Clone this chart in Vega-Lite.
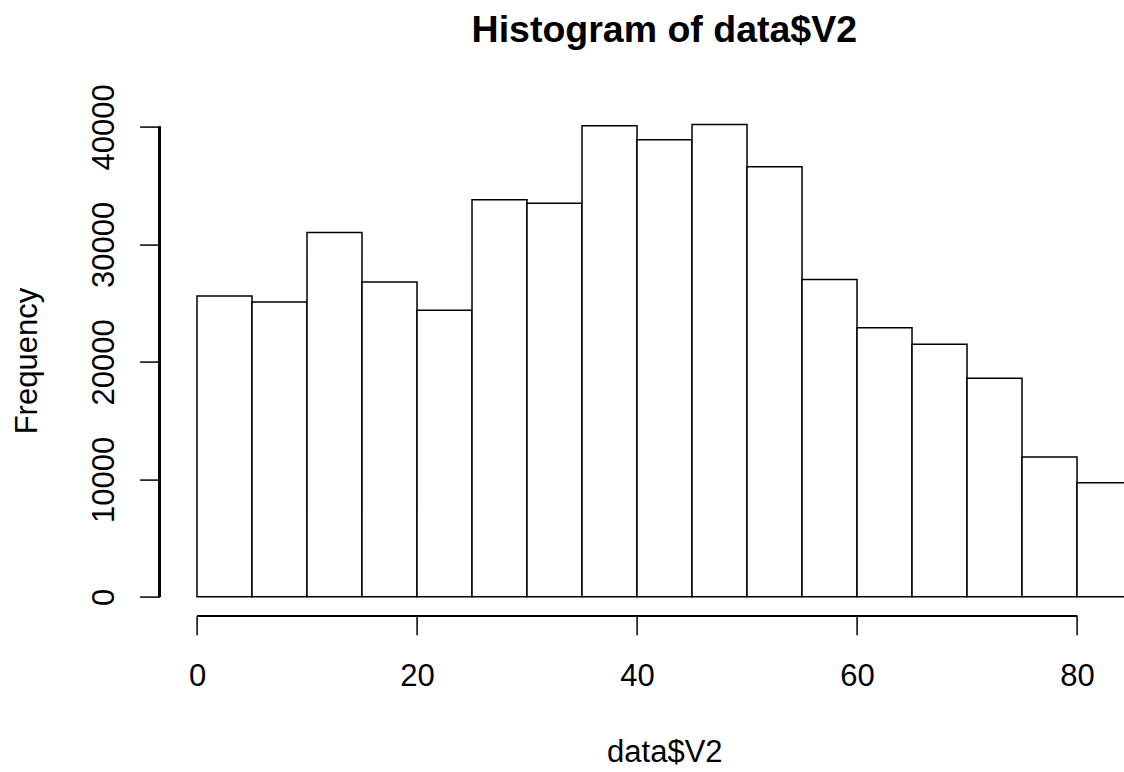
{
  "$schema": "https://vega.github.io/schema/vega-lite/v6.json",
  "width": 964.4,
  "height": 510.1,
  "autosize": {"type": "none"},
  "padding": {"left": 159.6, "top": 105.6, "right": 0, "bottom": 156.3},
  "background": "white",
  "config": {
    "view": {"stroke": null},
    "font": "Liberation Sans"
  },
  "title": {
    "text": "Histogram of data$V2",
    "font": "Liberation Sans",
    "fontSize": 37.5,
    "fontWeight": "bold",
    "color": "black",
    "anchor": "middle",
    "frame": "group",
    "dx": 22.5,
    "baseline": "alphabetic",
    "offset": 4
  },
  "data": {
    "values": [
      {"bin_start": 0, "bin_end": 5, "count": 25600},
      {"bin_start": 5, "bin_end": 10, "count": 25100},
      {"bin_start": 10, "bin_end": 15, "count": 31000},
      {"bin_start": 15, "bin_end": 20, "count": 26800},
      {"bin_start": 20, "bin_end": 25, "count": 24400},
      {"bin_start": 25, "bin_end": 30, "count": 33800},
      {"bin_start": 30, "bin_end": 35, "count": 33500},
      {"bin_start": 35, "bin_end": 40, "count": 40100},
      {"bin_start": 40, "bin_end": 45, "count": 38900},
      {"bin_start": 45, "bin_end": 50, "count": 40200},
      {"bin_start": 50, "bin_end": 55, "count": 36600},
      {"bin_start": 55, "bin_end": 60, "count": 27000},
      {"bin_start": 60, "bin_end": 65, "count": 22900},
      {"bin_start": 65, "bin_end": 70, "count": 21500},
      {"bin_start": 70, "bin_end": 75, "count": 18600},
      {"bin_start": 75, "bin_end": 80, "count": 11900},
      {"bin_start": 80, "bin_end": 85, "count": 9700}
    ]
  },
  "layer": [
    {
      "mark": {"type": "rect", "fill": "white", "stroke": "black", "strokeWidth": 1.5, "clip": true},
      "encoding": {
        "x": {
          "field": "bin_start",
          "type": "quantitative",
          "title": "data$V2",
          "scale": {"domain": [-3.4, 84.27], "nice": false, "zero": false},
          "axis": {
            "values": [0, 20, 40, 60, 80],
            "domain": false,
            "grid": false,
            "tickSize": 19,
            "tickWidth": 1.5,
            "tickColor": "black",
            "labelFont": "Liberation Sans",
            "labelFontSize": 31,
            "labelColor": "black",
            "labelPadding": 27,
            "labelFlush": false,
            "labelOverlap": false,
            "titleFont": "Liberation Sans",
            "titleFontSize": 31,
            "titleFontWeight": "normal",
            "titleColor": "black",
            "titleX": 504.7,
            "titleY": 145.3,
            "titleAlign": "center",
            "titleBaseline": "alphabetic"
          }
        },
        "x2": {"field": "bin_end"},
        "y": {
          "field": "count",
          "type": "quantitative",
          "title": "Frequency",
          "scale": {"domain": [-1608, 41808], "nice": false, "zero": false},
          "axis": {
            "values": [0, 10000, 20000, 30000, 40000],
            "format": "d",
            "domain": false,
            "grid": false,
            "tickSize": 20,
            "tickWidth": 1.5,
            "tickColor": "black",
            "labelFont": "Liberation Sans",
            "labelFontSize": 31,
            "labelColor": "black",
            "labelAngle": -90,
            "labelAlign": "center",
            "labelBaseline": "alphabetic",
            "labelPadding": 26,
            "labelFlush": false,
            "labelOverlap": false,
            "titleFont": "Liberation Sans",
            "titleFontSize": 31,
            "titleFontWeight": "normal",
            "titleColor": "black",
            "titleAngle": -90,
            "titleX": -122.9,
            "titleY": 255,
            "titleAlign": "center",
            "titleBaseline": "alphabetic"
          }
        },
        "y2": {"datum": 0}
      }
    },
    {
      "mark": {"type": "rule", "color": "black", "strokeWidth": 1.5},
      "encoding": {
        "x": {"datum": 0},
        "x2": {"datum": 80},
        "y": {"datum": -1608}
      }
    },
    {
      "mark": {"type": "rule", "color": "black", "strokeWidth": 1.5},
      "encoding": {
        "x": {"datum": -3.4},
        "y": {"datum": 0},
        "y2": {"datum": 40000}
      }
    }
  ]
}
